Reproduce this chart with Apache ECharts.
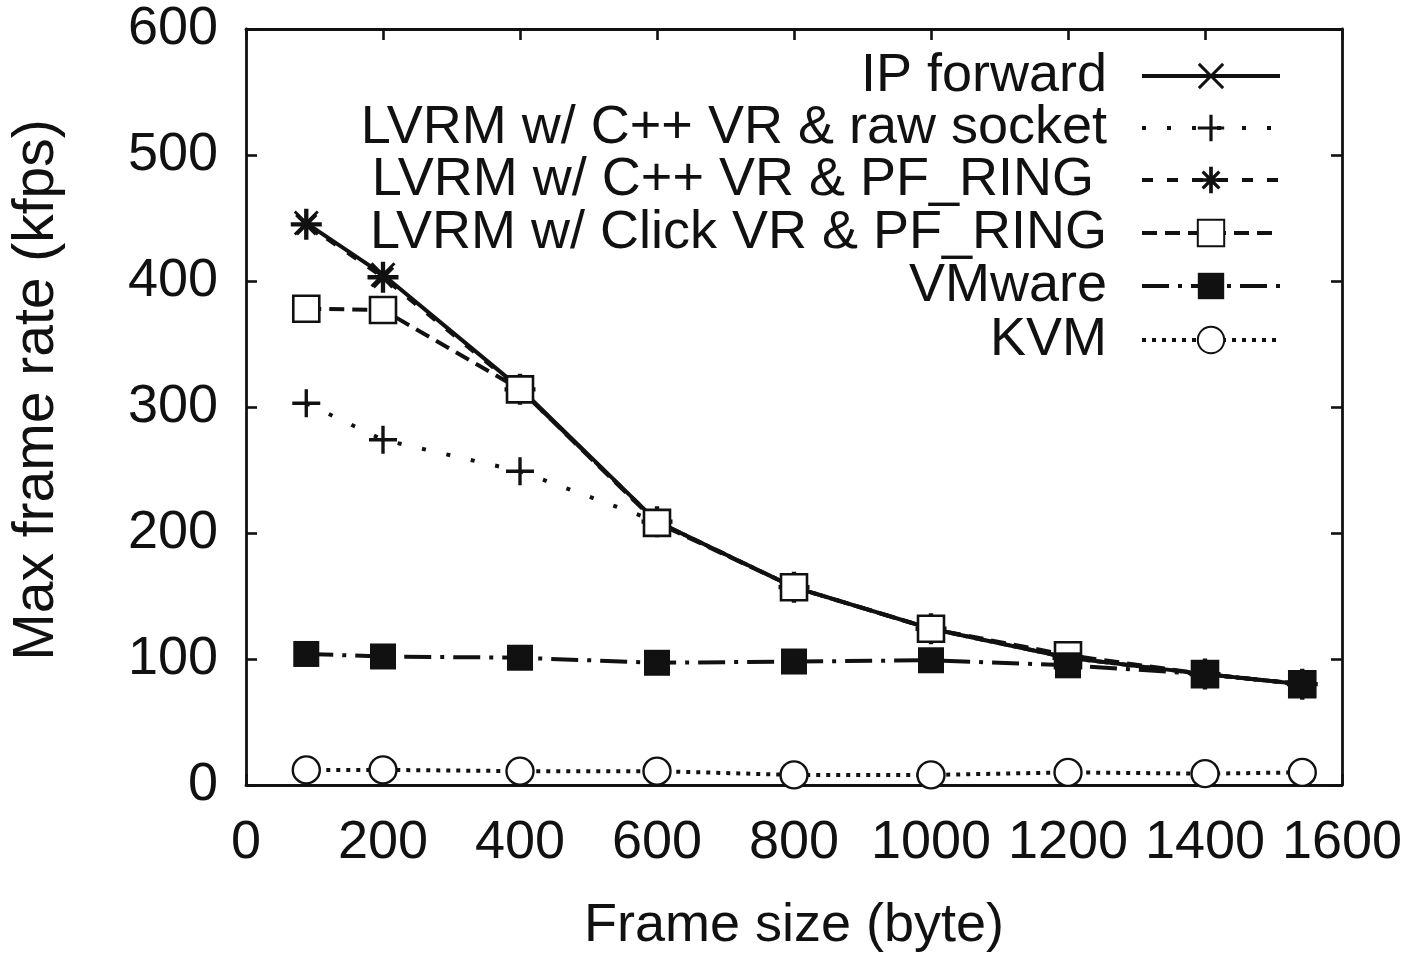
<!DOCTYPE html>
<html>
<head>
<meta charset="utf-8">
<script src="https://cdn.jsdelivr.net/npm/echarts@6/dist/echarts.min.js"></script>
<style>
  html, body { margin: 0; padding: 0; background: #fff; }
  #chart { width: 1423px; height: 958px; }
</style>
</head>
<body>
<div id="chart"></div>
<script>
// Frame sizes (bytes) on the x axis
const frameSizes = [88, 200, 400, 600, 800, 1000, 1200, 1400, 1542];

// Max frame rate (kfps) per configuration
const ipForward   = [446, 405, 315, 209, 157, 124, 101, 88, 80];
const rawSocket   = [303, 274, 249, 209, 157, 124, 101, 88, 80];
const cppPfRing   = [445, 403, 314, 209, 157, 124, 101, 88, 80];
const clickPfRing = [378, 377, 314, 208, 157, 124, 103, 88, 80];
const vmware      = [104, 102, 101, 97, 98, 99, 95, 88, 80];
const kvm         = [12, 12, 11, 11, 8, 8, 10, 9, 10];

const seriesNames = [
  'IP forward',
  'LVRM w/ C++ VR & raw socket',
  'LVRM w/ C++ VR & PF_RING',
  'LVRM w/ Click VR & PF_RING',
  'VMware',
  'KVM'
];

const xTicks = { min: 0, max: 1600, interval: 200 };
const yTicks = { min: 0, max: 600, interval: 100 };

const FONT = 'Liberation Sans, Arial, Helvetica, sans-serif';
const FS = 54;
const INK = '#111';

// Line-art point glyphs, drawn as filled outlines
const crossPath = 'path://M0,8L8,0L50,42L92,0L100,8L58,50L100,92L92,100L50,58L8,100L0,92L42,50Z';
const plusPath = 'path://M44,0H56V44H100V56H56V100H44V56H0V44H44Z';
const starPath = 'path://M43,0H57V43H100V57H57V100H43V57H0V43H43Z' +
  'M14,23L23,14L50,41L77,14L86,23L59,50L86,77L77,86L50,59L23,86L14,77L41,50Z';

const pairs = ys => frameSizes.map((x, i) => [x, ys[i]]);

const styles = [
  { data: ipForward,   symbol: crossPath, size: 25, dash: 'solid', fill: INK, border: 0 },
  { data: rawSocket,   symbol: plusPath,  size: 28, dash: [4, 21], fill: INK, border: 0 },
  { data: cppPfRing,   symbol: starPath,  size: 31, dash: [11, 14], fill: INK, border: 0 },
  { data: clickPfRing, symbol: 'rect',    size: 26, dash: [15, 8], fill: '#fff', border: 2.6 },
  { data: vmware,      symbol: 'rect',    size: 26, dash: [27, 9, 4, 9], fill: INK, border: 0 },
  { data: kvm,         symbol: 'circle',  size: 27, dash: [4, 6], fill: '#fff', border: 2.4 }
];

const series = styles.map((s, i) => ({
  name: seriesNames[i],
  type: 'line',
  data: pairs(s.data),
  symbol: s.symbol,
  symbolSize: s.size,
  showAllSymbol: true,
  lineStyle: { color: INK, width: 4, type: s.dash },
  itemStyle: { color: s.fill, borderColor: INK, borderWidth: s.border, opacity: 1 },
  emphasis: { disabled: true },
  z: 2 + i
}));

// Key in the upper right: one block per entry, right-aligned, sample on the right
const legendRows = [75, 127, 179, 232, 285, 339];
const legendTextPad = [30, 30, 43, 30, 30, 30];
const legends = seriesNames.map((name, i) => ({
  data: [name],
  orient: 'vertical',
  align: 'right',
  right: 141,
  top: legendRows[i] - 26,
  padding: 0,
  itemWidth: 138,
  itemHeight: 33,
  selectedMode: false,
  lineStyle: { width: 4 },
  textStyle: {
    fontFamily: FONT, fontSize: FS, color: INK,
    padding: [0, legendTextPad[i], 0, 0]
  }
}));

const axisLine = { show: true, onZero: false, lineStyle: { color: INK, width: 2.8 } };
const axisTick = { show: true, inside: true, length: 11, lineStyle: { color: INK, width: 2.6 } };

const chart = echarts.init(document.getElementById('chart'), null, { renderer: 'canvas' });
chart.setOption({
  animation: false,
  backgroundColor: '#fff',
  grid: { left: 246, right: 81, top: 29, bottom: 170 },
  legend: legends,
  xAxis: [
    {
      type: 'value', position: 'bottom', ...xTicks,
      name: 'Frame size (byte)', nameLocation: 'middle', nameGap: 114,
      nameTextStyle: { fontFamily: FONT, fontSize: FS, color: INK },
      axisLine, axisTick,
      axisLabel: { fontFamily: FONT, fontSize: FS, color: INK, margin: 31, formatter: v => String(v) },
      splitLine: { show: false }
    },
    {
      type: 'value', position: 'top', ...xTicks,
      axisLine, axisTick, axisLabel: { show: false }, splitLine: { show: false }
    }
  ],
  yAxis: [
    {
      type: 'value', position: 'left', ...yTicks,
      name: 'Max frame rate (kfps)', nameLocation: 'middle', nameGap: 180,
      nameTextStyle: { fontFamily: FONT, fontSize: 57, color: INK, padding: [0, 0, 0, 34] },
      axisLine, axisTick,
      axisLabel: { fontFamily: FONT, fontSize: FS, color: INK, margin: 28, formatter: v => String(v) },
      splitLine: { show: false }
    },
    {
      type: 'value', position: 'right', ...yTicks,
      axisLine, axisTick, axisLabel: { show: false }, splitLine: { show: false }
    }
  ],
  series
});
</script>
</body>
</html>
